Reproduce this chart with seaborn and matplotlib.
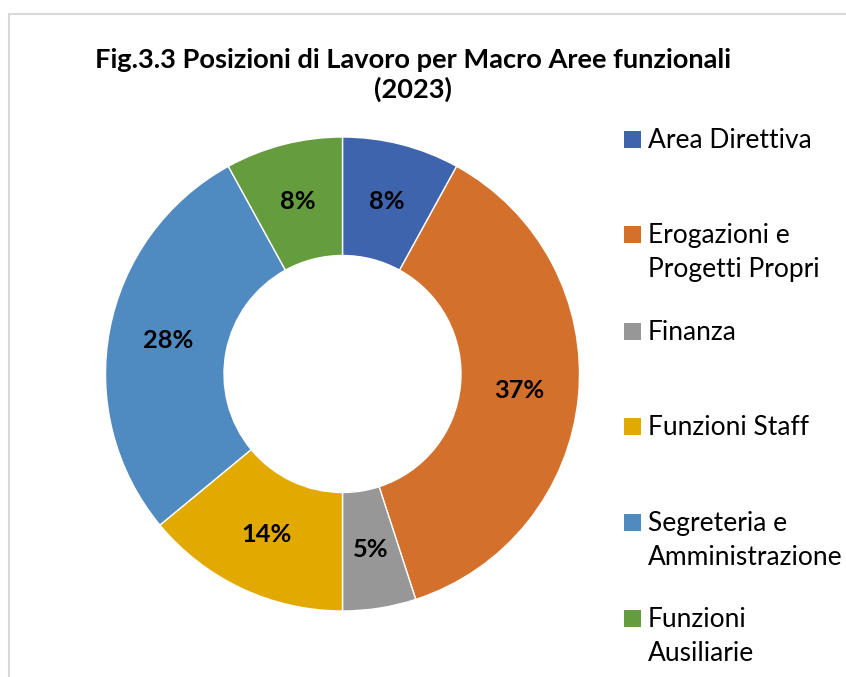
import matplotlib
matplotlib.use("Agg")
import matplotlib.pyplot as plt
from matplotlib.patches import Rectangle
import seaborn as sns

sns.set_theme(style="white")
plt.rcParams['font.family'] = ['Lato', 'DejaVu Sans']

### Data ###

categories = ["Area Direttiva", "Erogazioni e\nProgetti Propri", "Finanza",
              "Funzioni Staff", "Segreteria e\nAmministrazione", "Funzioni\nAusiliarie"]
shares = [8, 37, 5, 14, 28, 8]
colors = ["#3D64AD", "#D3702C", "#979797", "#E2AA00", "#4F8AC1", "#659D3E"]
title = "Fig.3.3 Posizioni di Lavoro per Macro Aree funzionali\n(2023)"

W, H = 846, 677
fig = plt.figure(figsize=(W / 100, H / 100), dpi=100)

# donut: center (342.5, 374) px, radius 237 px
cx, cy, r = 342.5, 374, 237
ax = fig.add_axes([(cx - r) / W, (H - cy - r) / H, 2 * r / W, 2 * r / H])
wedges, texts, autotexts = ax.pie(shares, colors=colors, startangle=90, counterclock=False,
                                  autopct='%.0f%%', pctdistance=0.75,
                                  wedgeprops=dict(width=0.5, edgecolor="white", linewidth=1),
                                  textprops=dict(fontsize=18.3, fontweight="bold", color="black"))
ax.set_xlim(-1, 1)
ax.set_ylim(-1, 1)
ax.set_aspect("equal")
ax.axis("off")

fig.text(413 / W, 1 - 75 / H, title, ha="center", va="center", fontsize=19.6,
         fontweight="bold", linespacing=1.22, color="black")

# legend, drawn by hand to keep the uneven spacing
sq_y = [139.5, 235, 331, 426.5, 522.5, 618.5]
for lab, col, y in zip(categories, colors, sq_y):
    fig.add_artist(Rectangle((624 / W, 1 - (y + 8.5) / H), 17 / W, 17 / H,
                             transform=fig.transFigure, color=col, lw=0))
    for i, line in enumerate(lab.split("\n")):
        fig.text(648 / W, 1 - (y + 8.5 + i * 34) / H, line, ha="left", va="baseline",
                 fontsize=19, color="black")

# outer frame of the chart area
fig.add_artist(Rectangle((9 / W, -0.05), 1.1, 1 - 14 / H + 0.05, transform=fig.transFigure,
                         fill=False, edgecolor="#D9D9D9", lw=1.5))

fig.savefig("out.png", dpi=100)
